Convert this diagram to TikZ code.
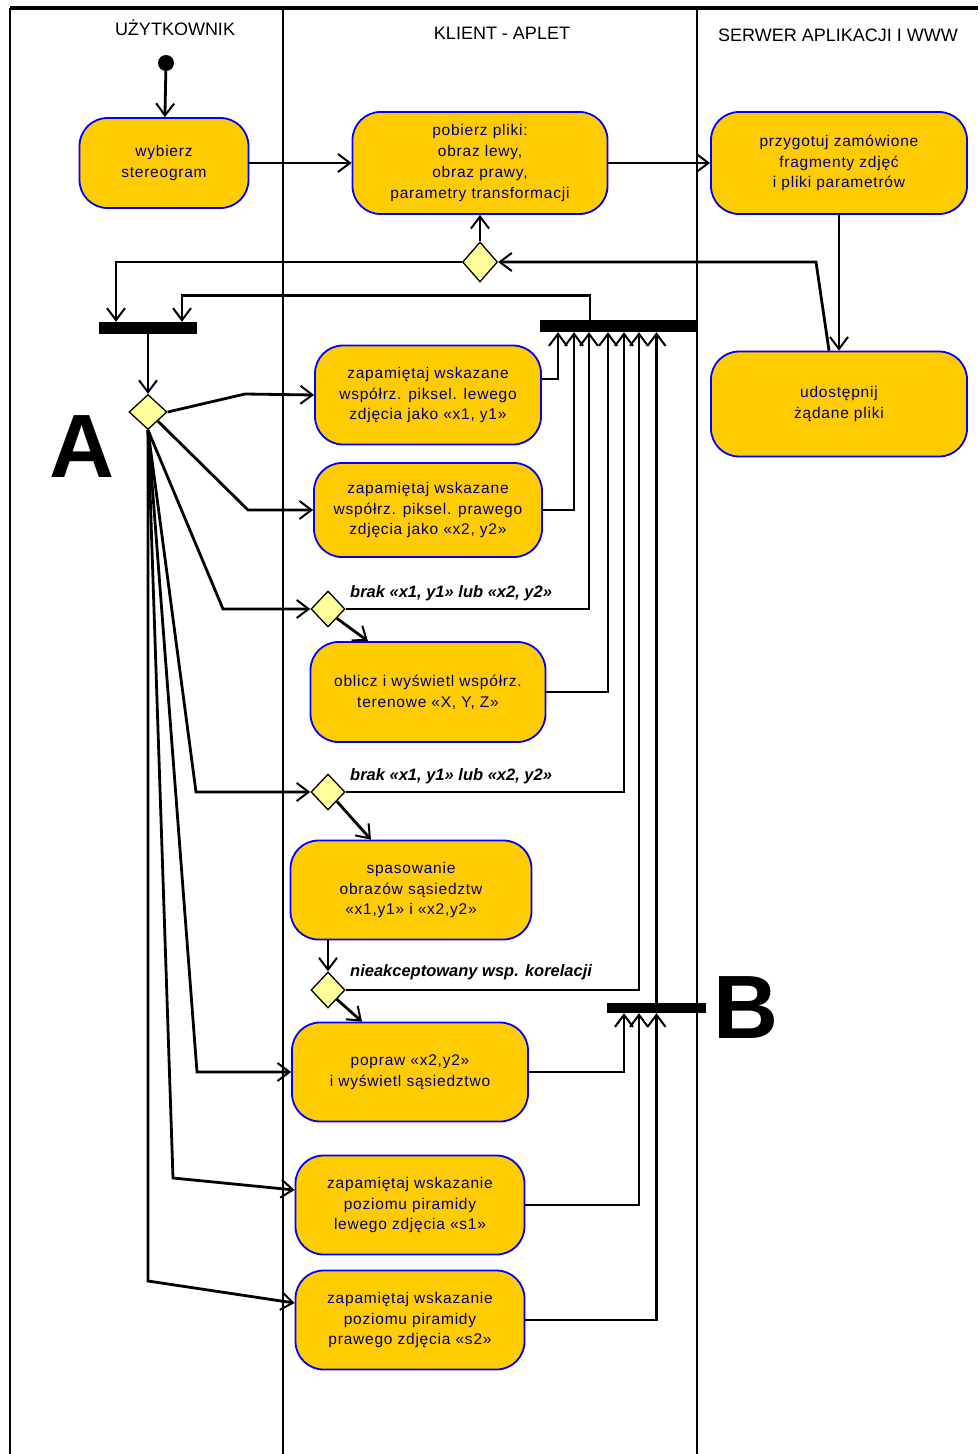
\documentclass[tikz,border=0pt]{standalone}
\usepackage{fontspec}
\setmainfont{Liberation Sans}
\newfontfamily\nodefont[LetterSpace=5]{Liberation Sans}
\usetikzlibrary{arrows.meta,shapes.geometric,calc}
\definecolor{actfill}{HTML}{FFCC00}
\definecolor{actdraw}{HTML}{0000FF}
\definecolor{acttext}{HTML}{000080}
\definecolor{decfill}{HTML}{FFFF99}
\begin{document}
\begin{tikzpicture}[x=1pt,y=-1pt,
  act/.style={rectangle, rounded corners=28pt, fill=actfill, draw=actdraw, line width=1.8pt, text=acttext, font=\nodefont\fontsize{15.5}{20.8}\selectfont, align=center, inner sep=0pt},
  dec/.style={diamond, fill=decfill, draw=black, line width=1.3pt, inner sep=0pt, minimum width=36pt, minimum height=36pt},
  bar/.style={rectangle, fill=black, inner sep=0pt},
  flow/.style={line width=2.8pt, -{Straight Barb[length=12pt,width=18pt,line width=2pt]}},
  lane/.style={line width=2.8pt},
  guard/.style={font=\fontsize{16.5}{18}\selectfont\bfseries\itshape, anchor=west, inner sep=0pt},
  hdr/.style={font=\fontsize{18}{20}\selectfont},
  big/.style={font=\fontsize{90}{92}\selectfont\bfseries, inner sep=0pt}]
\useasboundingbox (0,0) rectangle (978,1454);
% swimlanes
\draw[line width=3.5pt] (10,8) -- (978,8);
\draw[lane] (10,8) -- (10,1454);
\draw[lane] (283,8) -- (283,1454);
\draw[lane] (697,8) -- (697,1454);
\node[hdr] (h1) at (175,28) {UŻYTKOWNIK};
\node[hdr] (h2) at (502,33) {KLIENT - APLET};
\node[hdr] (h3) at (838,35) {SERWER APLIKACJI I WWW};
% big labels
\node[big] (lA) at (82,447) {A};
\node[big] (lB) at (746,1008) {B};
% start
\node[circle, fill=black, minimum size=16pt, inner sep=0pt] (start) at (166,63) {};
% activities
\node[act, minimum width=169pt, minimum height=90pt] (n1) at (164,163) {wybierz\\stereogram};
\node[act, minimum width=255pt, minimum height=102pt] (n2) at (480,163) {pobierz pliki:\\obraz lewy,\\obraz prawy,\\parametry transformacji};
\node[act, minimum width=256pt, minimum height=102pt] (n3) at (839,163) {przygotuj zamówione\\fragmenty zdjęć\\i pliki parametrów};
\node[act, minimum width=256pt, minimum height=105pt] (n4) at (839,404) {udostępnij\\żądane pliki};
\node[act, minimum width=226pt, minimum height=99pt] (n5) at (428,395) {zapamiętaj wskazane\\współrz. piksel. lewego\\zdjęcia jako «x1, y1»};
\node[act, minimum width=228pt, minimum height=94pt] (n6) at (428,510) {zapamiętaj wskazane\\współrz. piksel. prawego\\zdjęcia jako «x2, y2»};
\node[act, minimum width=235pt, minimum height=100pt] (n7) at (428,692) {oblicz i wyświetl współrz.\\terenowe «X, Y, Z»};
\node[act, minimum width=241pt, minimum height=99pt] (n8) at (411,890) {spasowanie\\obrazów sąsiedztw\\«x1,y1» i «x2,y2»};
\node[act, minimum width=236pt, minimum height=99pt] (n9) at (410,1072) {popraw «x2,y2»\\i wyświetl sąsiedztwo};
\node[act, minimum width=229pt, minimum height=99pt] (n10) at (410,1205) {zapamiętaj wskazanie\\poziomu piramidy\\lewego zdjęcia «s1»};
\node[act, minimum width=229pt, minimum height=99pt] (n11) at (410,1320) {zapamiętaj wskazanie\\poziomu piramidy\\prawego zdjęcia «s2»};
% decisions
\node[dec, minimum width=35pt, minimum height=40pt] (d0) at (480,262) {};
\node[dec, minimum width=38pt, minimum height=35pt] (dA) at (148,412) {};
\node[dec, minimum width=34pt, minimum height=36pt] (d1) at (328,609) {};
\node[dec, minimum width=34pt, minimum height=36pt] (d2) at (328,792) {};
\node[dec, minimum width=34pt, minimum height=36pt] (d3) at (328,990) {};
% bars
\node[bar, minimum width=98pt, minimum height=12pt] (bar1) at (148,328) {};
\node[bar, minimum width=157pt, minimum height=12pt] (bar2) at (618.5,326) {};
\node[bar, minimum width=99pt, minimum height=10pt] (bar3) at (656.5,1008) {};
% guards
\node[guard] (g1) at (350,593) {brak «x1, y1» lub «x2, y2»};
\node[guard] (g2) at (350,776) {brak «x1, y1» lub «x2, y2»};
\node[guard] (g3) at (350,972) {nieakceptowany wsp. korelacji};
% flows
\draw[flow] (start) -- (n1);
\draw[flow] (n1) -- (n2);
\draw[flow] (n2) -- (n3);
\draw[flow] (n3) -- (n3 |- n4.north);
\draw[flow] ([xshift=-10pt]n4.north) -- (816,262) -- (d0.east);
\draw[flow] (d0) -- (n2);
\draw[flow] (d0.west) -| ([xshift=-32pt]bar1.north);
\draw[flow] ([xshift=-28.5pt]bar2.north) -- ++(0,-24) -| ([xshift=34pt]bar1.north);
\draw[flow] (bar1.south) -- (dA.north);
\draw[flow] (dA.east) -- (245,394) -- (n5.west);
\draw[flow] (dA.south east) -- (248,510) -- (n6.west);
\draw[flow] (dA.south) -- (223,609) -- (d1.west);
\draw[flow] (dA.south) -- (196,792) -- (d2.west);
\draw[flow] (dA.south) -- (197,1072) -- (n9.west);
\draw[flow] (dA.south) -- (173,1178) -- ([yshift=15pt]n10.west);
\draw[flow] (dA.south) -- (148,1281) -- ([yshift=17pt]n11.west);
\draw[flow] (d1.south east) -- ([xshift=-60pt]n7.north);
\draw[flow] (d2.south east) -- ([xshift=-40pt]n8.north);
\draw[flow] (n8.south -| d3.north) -- (d3.north);
\draw[flow] (d3.south east) -- ([xshift=-48pt]n9.north);
% joins into bar2
\draw[flow] ([yshift=16pt]n5.east) -| ([xshift=-60.5pt]bar2.south);
\draw[flow] (n6.east) -| ([xshift=-44.5pt]bar2.south);
\draw[flow] (d1.east) -| ([xshift=-29.5pt]bar2.south);
\draw[flow] (n7.east) -| ([xshift=-10.5pt]bar2.south);
\draw[flow] (d2.east) -| ([xshift=5.5pt]bar2.south);
\draw[flow] (d3.east) -| ([xshift=20.5pt]bar2.south);
\draw[flow] (bar3.north) -- (bar3.north |- bar2.south);
% joins into bar3
\draw[flow] (n9.east) -| ([xshift=-32.5pt]bar3.south);
\draw[flow] (n10.east) -| ([xshift=-17.5pt]bar3.south);
\draw[flow] (n11.east) -| (bar3.south);
\end{tikzpicture}
\end{document}
